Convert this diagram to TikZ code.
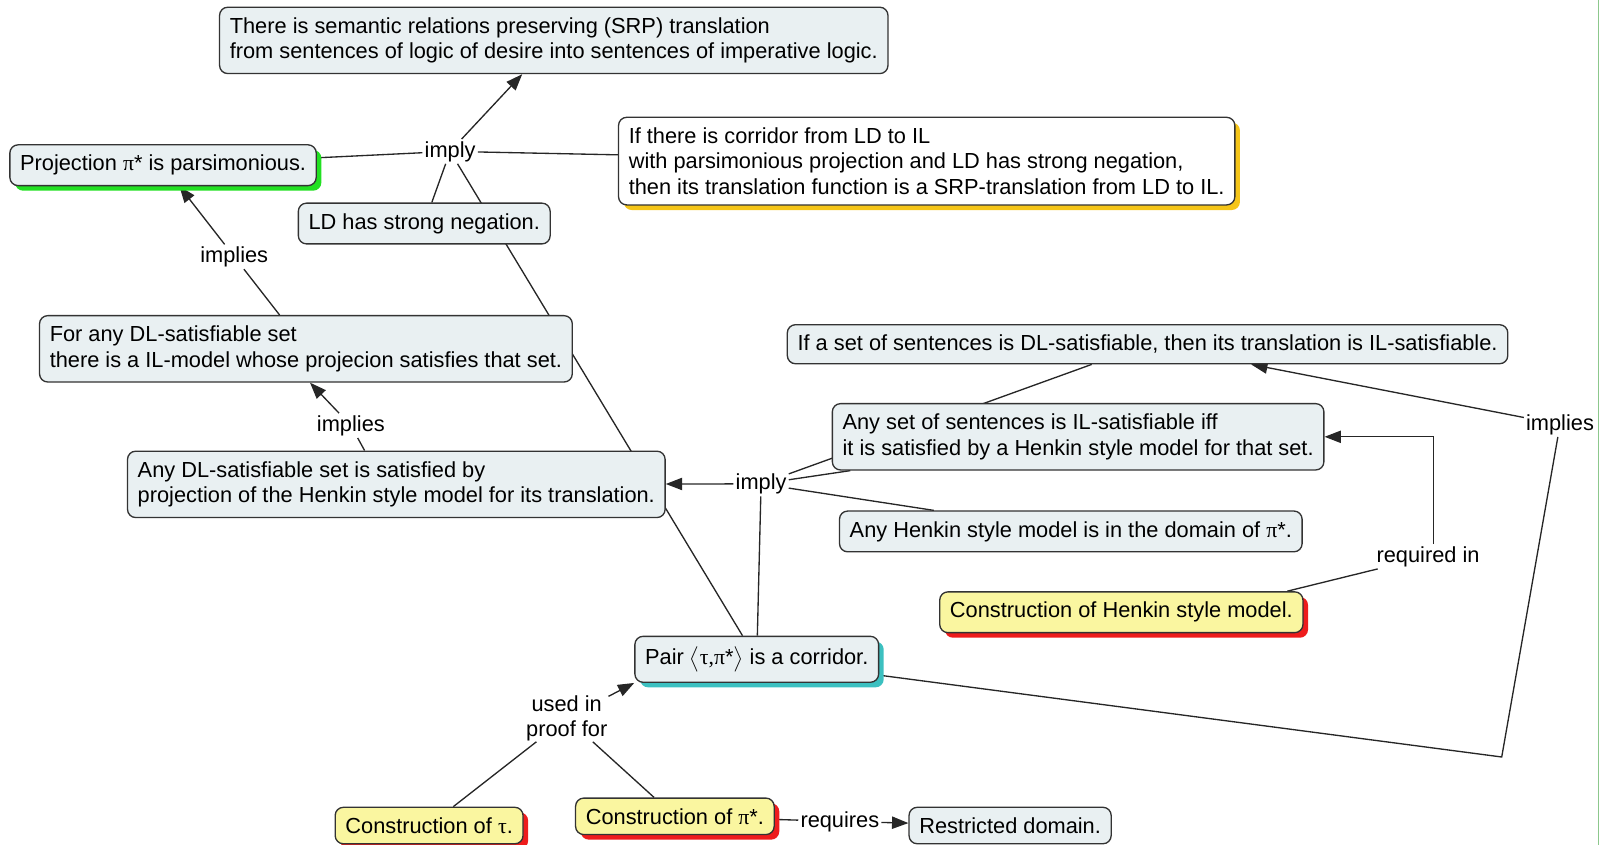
\documentclass[tikz,border=0pt]{standalone}
\usepackage{amsmath}
\usepackage{fontspec}
\setmainfont{Liberation Sans}
\newfontfamily\gr{Liberation Serif}
\usetikzlibrary{arrows.meta,shadows,calc,backgrounds}
\definecolor{bfill}{HTML}{E9F0F2}
\definecolor{yfill}{HTML}{FAF6A0}
\definecolor{bord}{HTML}{333333}
\definecolor{shgreen}{HTML}{22E022}
\definecolor{shorange}{HTML}{F5C518}
\definecolor{shred}{HTML}{EE1C1C}
\definecolor{shteal}{HTML}{3CC0C0}
\definecolor{edgegreen}{HTML}{8CC88C}
\begin{document}
\begin{tikzpicture}[x=1pt,y=-1pt,
  font=\fontsize{21.3}{25}\selectfont,
  box/.style={draw=bord, line width=1.3pt, rounded corners=8pt, fill=bfill,
    align=left, inner xsep=10pt, inner ysep=10pt, anchor=west},
  ybox/.style={box, fill=yfill},
  sh/.style={drop shadow={shadow xshift=5pt, shadow yshift=-5pt, fill=#1, opacity=1}},
  lab/.style={inner sep=2pt, align=center},
  conn/.style={draw=black!85, line width=1.3pt},
  arr/.style={conn, -{Triangle[length=16pt,width=12pt]}}]
\useasboundingbox (0,0) rectangle (1568,826);
% concepts
\node[box] (SRP) at (214,39.5) {There is semantic relations preserving (SRP) translation\\from sentences of logic of desire into sentences of imperative logic.};
\node[box, sh=shgreen] (Proj) at (9,161.5) {Projection {\gr π}* is parsimonious.};
\node[box] (LD) at (291,218.5) {LD has strong negation.};
\node[box, fill=white, sh=shorange] (IfCorr) at (604,157.5) {If there is corridor from LD to IL\\with parsimonious projection and LD has strong negation,\\then its translation function is a SRP-translation from LD to IL.};
\node[box] (ForAny) at (38,341) {For any DL-satisfiable set\\there is a IL-model whose projecion satisfies that set.};
\node[box] (AnyDL) at (124,473.5) {Any DL-satisfiable set is satisfied by\\projection of the Henkin style model for its translation.};
\node[box] (IfSet) at (769,336.5) {If a set of sentences is DL-satisfiable, then its translation is IL-satisfiable.};
\node[box] (AnyIL) at (813,427) {Any set of sentences is IL-satisfiable iff\\it is satisfied by a Henkin style model for that set.};
\node[box] (AnyHenkin) at (820,519.5) {Any Henkin style model is in the domain of {\gr π}*.};
\node[ybox, sh=shred] (ConstrHenkin) at (918,598.5) {Construction of Henkin style model.};
\node[box, sh=shteal] (Pair) at (620,644.5) {Pair $\bigl\langle${\gr τ,π}*$\bigr\rangle$ is a corridor.};
\node[ybox, sh=shred] (ConstrTau) at (327,807) {Construction of {\gr τ}.};
\node[ybox, sh=shred] (ConstrPi) at (562,798) {Construction of {\gr π}*.};
\node[box] (Restricted) at (888,807) {Restricted domain.};
% linking phrases
\node[lab] (imply1) at (440,148) {imply};
\node[lab] (implies1) at (229,251) {implies};
\node[lab] (implies2) at (343,416) {implies};
\node[lab] (imply2) at (744,473) {imply};
\node[lab] (implies3) at (1525,415) {implies};
\node[lab] (requiredin) at (1396,544) {required in};
\node[lab, inner sep=1pt] (usedin) at (554,702) {used in\\[-1pt]proof for};
\node[lab] (requires) at (821,803) {requires};
\coordinate (corner) at (1468,740);
\begin{scope}[on background layer]
  \draw[conn] (Proj) -- (imply1);
  \draw[conn] (IfCorr) -- (imply1);
  \draw[conn] (LD) -- (imply1);
  \draw[conn] (Pair) -- (imply1);
  \draw[arr] (imply1) -- (SRP);
  \draw[conn] (ForAny) -- (implies1);
  \draw[arr] (implies1) -- (Proj);
  \draw[conn] ([xshift=-31pt]AnyDL.north) -- (implies2);
  \draw[arr] (implies2) -- ([xshift=4pt]ForAny.south);
  \draw[conn] (AnyIL) -- (imply2);
  \draw[conn] (IfSet) -- (imply2);
  \draw[conn] (AnyHenkin) -- (imply2);
  \draw[conn] (Pair) -- (imply2);
  \draw[arr] (imply2) -- (AnyDL);
  \draw[conn] ([xshift=-16pt]ConstrHenkin.north east) -- (requiredin);
  \draw[arr] ([xshift=5pt]requiredin.north) |- (AnyIL.east);
  \draw[conn] (Pair) -- (corner) -- (implies3);
  \draw[arr] (implies3) -- (IfSet);
  \draw[conn] (ConstrTau) -- (usedin);
  \draw[conn] (ConstrPi) -- (usedin);
  \draw[arr] (usedin) -- (Pair.south west);
  \draw[conn] (ConstrPi) -- (requires);
  \draw[arr] (requires) -- (Restricted);
\end{scope}
\draw[edgegreen, line width=1pt] (1563,0) -- (1563,826);
\end{tikzpicture}
\end{document}
